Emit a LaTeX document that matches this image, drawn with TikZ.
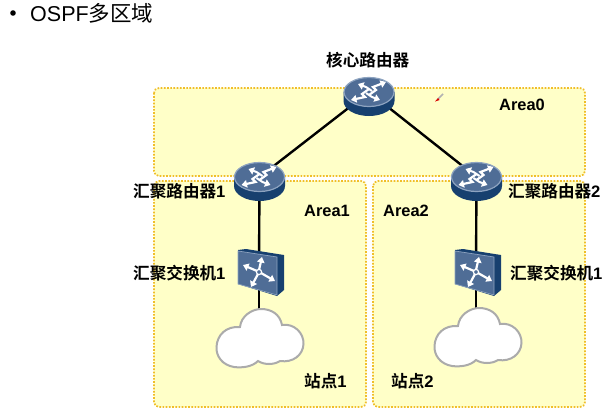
\documentclass[tikz,border=0pt]{standalone}
\usepackage{fontspec}
\setmainfont{Liberation Sans}
\newfontfamily\cjkb[BoldFont={Noto Sans CJK SC Bold}]{Noto Sans CJK SC}
\newfontfamily\cjkr{Noto Sans CJK SC}
\usetikzlibrary{arrows.meta}
\definecolor{areafill}{HTML}{FFFFC8}
\definecolor{areaedge}{HTML}{F0BE28}
\definecolor{devtop}{HTML}{4F6D96}
\definecolor{devrim}{HTML}{8DA3C0}
\definecolor{devside}{HTML}{17406F}
\definecolor{cloudedge}{HTML}{ABABAB}
\tikzset{
  area/.style={fill=areafill,draw=areaedge,line width=1.7pt,dash pattern=on 1.7pt off 1.5pt,rounded corners=5pt},
  link/.style={line width=2.4pt,black},
  lab/.style={font=\fontsize{16.6}{18}\selectfont\bfseries,inner sep=0pt,anchor=west},
  arealab/.style={font=\fontsize{16.4}{18}\selectfont\bfseries,inner sep=0pt,anchor=west},
  ico/.style={draw=white,line width=2.2pt,-{Triangle[width=7.5pt,length=5.5pt]}},
  router/.pic={
    \fill[devside] (-25.5,0) -- (-25.5,9) arc[start angle=180,end angle=360,x radius=25.5pt,y radius=15pt] -- (25.5,0) -- cycle;
    \fill[devtop,draw=devrim,line width=1.2pt] (0,0) ellipse[x radius=25,y radius=14.5];
    \draw[ico] (0,3) -- (7,-2) -- (4,-5) -- (17,-10);
    \draw[ico] (0,-3) -- (-7,2) -- (-4,5) -- (-18,8);
    \draw[ico,line width=2pt] (3,-1) -- (-3,-5) -- (-11,-8);
    \draw[ico,line width=2pt] (-3,1) -- (3,5) -- (11,8);
  },
  switchdev/.pic={
    \fill[devside] (-21,-22) -- (-13,-23) -- (25,-17) -- (25,18) -- (18,24) -- (-21,12) -- cycle;
    \fill[devtop,draw=devrim,line width=.7pt] (-21,-21) -- (18,-15) -- (18,23) -- (-21,12) -- cycle;
    \draw[ico] (0,-2) -- (3,-15);
    \draw[ico] (-2,-1) -- (-16,-7);
    \draw[ico] (2,1) -- (16,9);
    \draw[ico] (-1,2) -- (-8,15);
    \draw[white,fill=devtop,line width=1.2pt] (0,0) circle[radius=2.6];
  },
  cloudshape/.pic={
    \draw[fill=white,draw=cloudedge,line width=2pt]
      (-26,29) .. controls (-38,27) and (-44,18) .. (-43.5,9)
      .. controls (-43,-3) and (-34,-12) .. (-20,-11)
      .. controls (-19,-22) and (-8,-29) .. (1,-29)
      .. controls (11,-29) and (20,-24) .. (22,-13)
      .. controls (34,-15) and (44,-5) .. (43.5,6)
      .. controls (43,17) and (33,25) .. (20,23)
      .. controls (14,27) and (4,27) .. (-2,23)
      .. controls (-8,29) and (-18,30) .. (-26,29) -- cycle;
  }
}
\begin{document}
\begin{tikzpicture}[x=1pt,y=-1pt]
\useasboundingbox (0,0) rectangle (611,418);
\fill[white] (0,0) rectangle (611,418);
% areas
\draw[area] (154,88) rectangle (585,176);
\draw[area] (154,181) rectangle (366,407);
\draw[area] (373,181) rectangle (585,407);
% device positions
\coordinate (core) at (369,92);
\coordinate (r1) at (259.5,177);
\coordinate (r2) at (476.5,177);
\coordinate (s1) at (259,272);
\coordinate (s2) at (476,272);
\coordinate (c1) at (260,338);
\coordinate (c2) at (478,337);
% connectors
\draw[link] (core) -- (r1);
\draw[link] (core) -- (r2);
\draw[link] (r1) -- (s1);
\draw[link] (r2) -- (s2);
\draw[link] (s1) -- (s1 |- c1);
\draw[link] (s2) -- (s2 |- c2);
% devices
\pic at (core) {router};
\pic at (r1) {router};
\pic at (r2) {router};
\pic at (s1) {switchdev};
\pic at (s2) {switchdev};
\pic at (c1) {cloudshape};
\pic at (c2) {cloudshape};
% pen mark
\draw[gray!60,line width=1.6pt] (443,94) -- (438,99);
\fill[red!85!black] (438,98) -- (435,101.5) -- (439.5,100) -- cycle;
% title
\fill[black] (13,13) circle[radius=2.8];
\node[inner sep=0pt,anchor=west,font=\fontsize{21.5}{24}\selectfont] (title) at (30,13) {OSPF{\cjkr 多区域}};
% labels
\node[lab] (lcore) at (326,60) {{\cjkb 核心路由器}};
\node[lab] (lr1) at (133,191) {{\cjkb 汇聚路由器}1};
\node[lab] (lr2) at (508,191) {{\cjkb 汇聚路由器}2};
\node[lab] (ls1) at (133,273) {{\cjkb 汇聚交换机}1};
\node[lab] (ls2) at (510,273) {{\cjkb 汇聚交换机}1};
\node[lab] (ld1) at (304,381) {{\cjkb 站点}1};
\node[lab] (ld2) at (391,381) {{\cjkb 站点}2};
\node[arealab] (a0) at (499,105) {Area0};
\node[arealab] (a1) at (304,211) {Area1};
\node[arealab] (a2) at (383,211) {Area2};
\end{tikzpicture}
\end{document}
